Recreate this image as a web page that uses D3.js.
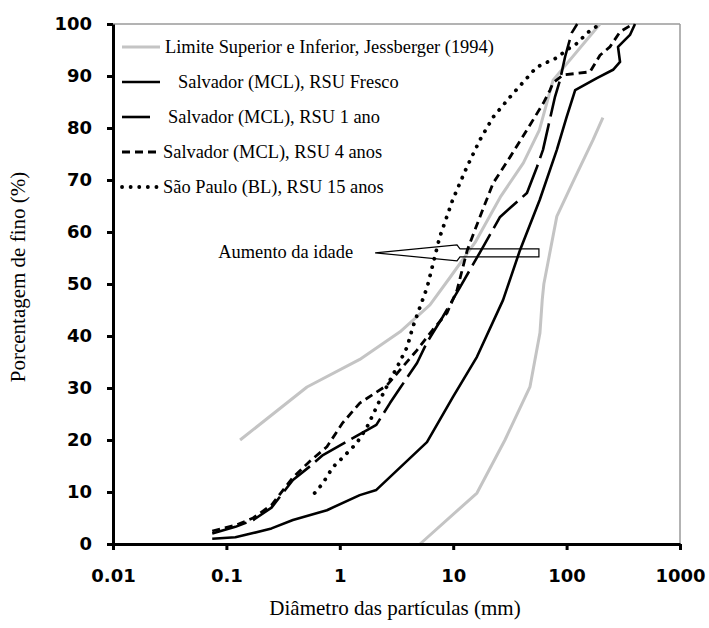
<!DOCTYPE html>
<html><head><meta charset="utf-8">
<script src="https://cdn.jsdelivr.net/npm/d3@7"></script>
<style>
body{margin:0;background:#fff;}
svg{display:block;}
</style></head>
<body>
<svg id="chart" width="709" height="628"></svg>
<script>
// ---- data ----
const xTicks = [0.01, 0.1, 1, 10, 100, 1000];
const xTickLabels = ["0.01", "0.1", "1", "10", "100", "1000"];
const yTicks = [0, 10, 20, 30, 40, 50, 60, 70, 80, 90, 100];

const seriesNames = [
  "Limite Superior e Inferior, Jessberger (1994)",
  "Salvador (MCL), RSU Fresco",
  "Salvador (MCL), RSU 1 ano",
  "Salvador (MCL), RSU 4 anos",
  "São Paulo (BL), RSU 15 anos"
];

const jessUpperD = [0.132, 0.514, 1.5, 3.4, 6.24, 9.4, 15.6, 26, 41.6, 57.5, 76, 197];
const jessUpperP = [20, 30.2, 35.5, 40.8, 46, 51.3, 58, 66.7, 73.3, 79.6, 89.2, 100];

const jessLowerD = [5.1, 16.2, 28.6, 47.5, 58.2, 61, 63, 82, 113, 171, 209];
const jessLowerP = [0, 9.8, 20, 30.2, 40.6, 47, 50, 63, 69.5, 77.7, 82];

const frescoD = [0.075, 0.12, 0.172, 0.25, 0.386, 0.77, 1.5, 2.1, 5.87, 9.96, 16.2, 27.5, 38.8, 58, 82, 100, 119, 185, 257, 296, 284, 362, 401];
const frescoP = [1, 1.3, 2.1, 3, 4.6, 6.5, 9.4, 10.4, 19.6, 28.3, 36, 46.9, 56.5, 66.2, 75.8, 82.1, 87.3, 89.6, 91.2, 92.7, 95.6, 97.9, 100];

const ano1D = [0.075, 0.12, 0.172, 0.25, 0.386, 0.55, 0.71, 2.1, 2.77, 3.4, 4.8, 5.85, 8.1, 11.5, 18.3, 25.9, 44.7, 54.8, 61.9, 79, 87.5, 97, 111, 124];
const ano1P = [2.0, 3.3, 4.6, 7, 12.3, 15, 17.1, 22.9, 27.1, 30, 34.8, 38.7, 43.7, 49.4, 57.1, 62.9, 67.5, 72.5, 75.8, 86, 89.2, 93.7, 98.3, 100];

const anos4D = [0.075, 0.12, 0.172, 0.25, 0.386, 0.55, 0.77, 1.06, 1.5, 2.6, 4.8, 6.6, 8.8, 10.8, 13.3, 17.2, 22.5, 31.7, 44.6, 62.4, 71.5, 75.9, 93, 161, 197, 241, 296, 385];
const anos4P = [2.5, 3.6, 5, 7.5, 12.8, 16, 18.7, 23.3, 27.1, 30.5, 37.3, 41.2, 44.4, 48.8, 56.5, 62.9, 69.4, 74.4, 79.6, 84.8, 87.3, 88.7, 90.2, 90.8, 94, 95.6, 98.5, 100];

const spD = [0.6, 0.71, 0.87, 1.07, 1.41, 1.74, 2.26, 2.77, 3.2, 3.93, 4.4, 5.1, 5.9, 7.6, 9.9, 13.2, 17.2, 22.5, 31.8, 54.4, 81.8, 100, 124, 152, 197];
const spP = [9.8, 11.7, 14.8, 16.7, 19.4, 22.5, 27.7, 31.5, 34, 37.9, 41.7, 45.6, 49.4, 59, 66.2, 72.5, 77.7, 82.1, 86, 91.7, 93.5, 95, 96.3, 98.3, 100];

// annotation (data units)
const arrowLabel = "Aumento da idade";
const arrowTipD = 2.05, arrowHeadD = 10.8, arrowTailD = 57, arrowP = 56;

// ---- layout / style ----
const svg = d3.select("#chart");
const M = {left: 113, right: 680, top: 24, bottom: 544};
const x = d3.scaleLog().domain([0.01, 1000]).range([M.left, M.right]);
const y = d3.scaleLinear().domain([0, 100]).range([M.bottom, M.top]);

const serif = "'Liberation Serif','Times New Roman',serif";
const sansBold = "'DejaVu Sans',Verdana,sans-serif";

const styles = [
  {stroke: "#c4c4c4", width: 3, dash: null, cap: "butt"},
  {stroke: "#000", width: 2.6, dash: null, cap: "butt"},
  {stroke: "#000", width: 2.6, dash: "36,7", cap: "butt"},
  {stroke: "#000", width: 2.8, dash: "8,5", cap: "butt"},
  {stroke: "#000", width: 3.8, dash: "0.1,8.5", cap: "round"}
];

// plot frame (gray top/right)
svg.append("line").attr("x1", M.left).attr("x2", M.right).attr("y1", M.top).attr("y2", M.top)
  .attr("stroke", "#9a9a9a").attr("stroke-width", 1.5);
svg.append("line").attr("x1", M.right).attr("x2", M.right).attr("y1", M.top).attr("y2", M.bottom)
  .attr("stroke", "#9a9a9a").attr("stroke-width", 1.5);

const line = d3.line().x(d => x(d[0])).y(d => y(d[1]));
const zip = (a, b) => a.map((v, i) => [v, b[i]]);

const curves = [
  {data: zip(jessUpperD, jessUpperP), s: 0},
  {data: zip(jessLowerD, jessLowerP), s: 0},
  {data: zip(frescoD, frescoP), s: 1},
  {data: zip(ano1D, ano1P), s: 2},
  {data: zip(anos4D, anos4P), s: 3},
  {data: zip(spD, spP), s: 4}
];

curves.forEach(c => {
  const st = styles[c.s];
  svg.append("path").attr("d", line(c.data)).attr("fill", "none")
    .attr("stroke", st.stroke).attr("stroke-width", st.width)
    .attr("stroke-dasharray", st.dash).attr("stroke-linecap", st.cap)
    .attr("stroke-linejoin", "round");
});

// axes
const xAxis = d3.axisBottom(x).tickValues(xTicks).tickFormat((d, i) => xTickLabels[i])
  .tickSizeInner(6).tickSizeOuter(0).tickPadding(19);
const gx = svg.append("g").attr("transform", `translate(0,${M.bottom})`).call(xAxis);
const yAxis = d3.axisLeft(y).tickValues(yTicks).tickFormat(d3.format("d"))
  .tickSizeInner(6).tickSizeOuter(0).tickPadding(15);
const gy = svg.append("g").attr("transform", `translate(${M.left},0)`).call(yAxis);
[gx, gy].forEach(g => {
  g.select(".domain").attr("stroke", "#000").attr("stroke-width", 3);
  g.selectAll(".tick line").attr("stroke", "#000").attr("stroke-width", 3);
  g.selectAll(".tick text").attr("fill", "#000").style("font-family", sansBold)
    .style("font-weight", "bold").style("font-size", "18px");
});

// axis titles
svg.append("text").attr("x", 395).attr("y", 615).attr("text-anchor", "middle")
  .style("font-family", serif).style("font-size", "21px").text("Diâmetro das partículas (mm)");
svg.append("text").attr("transform", "translate(25,277) rotate(-90)").attr("text-anchor", "middle")
  .style("font-family", serif).style("font-size", "21px").text("Porcentagem de fino (%)");

// legend
const legendRowsY = [47, 82, 117, 152, 187];
const legendTextX = [165, 178, 168, 163, 163];
const legendLineEnd = [160, 160, 150, 160, 160];
seriesNames.forEach((name, i) => {
  const st = styles[i];
  svg.append("line").attr("x1", 122).attr("x2", legendLineEnd[i])
    .attr("y1", legendRowsY[i]).attr("y2", legendRowsY[i])
    .attr("stroke", st.stroke).attr("stroke-width", st.width)
    .attr("stroke-dasharray", i === 2 ? null : st.dash).attr("stroke-linecap", st.cap);
  svg.append("text").attr("x", legendTextX[i]).attr("y", legendRowsY[i] + 6)
    .style("font-family", serif).style("font-size", "18.4px").text(name);
});

// arrow annotation
const ay = y(arrowP);
const tipX = x(arrowTipD), headX = x(arrowHeadD), tailX = x(arrowTailD);
const arrowPts = [
  [tipX, ay], [headX, ay - 8], [headX + 3, ay - 4], [tailX, ay - 4],
  [tailX, ay + 4], [headX + 3, ay + 4], [headX, ay + 8]
];
svg.append("path").attr("d", "M" + arrowPts.map(p => p.join(",")).join("L") + "Z")
  .attr("fill", "none").attr("stroke", "#000").attr("stroke-width", 1.2);
svg.append("text").attr("x", tipX - 22).attr("y", ay + 5).attr("text-anchor", "end")
  .style("font-family", serif).style("font-size", "18.4px").text(arrowLabel);
</script>
</body></html>
